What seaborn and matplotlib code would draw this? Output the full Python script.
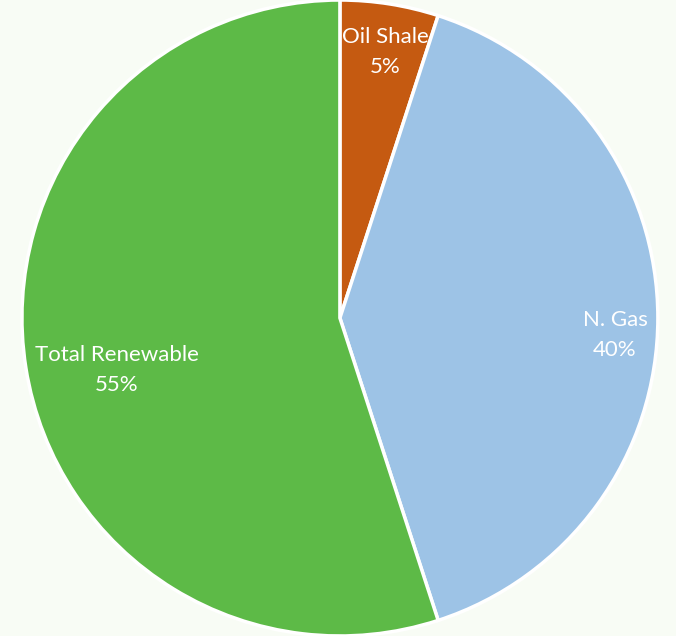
import numpy as np
import matplotlib
matplotlib.use("Agg")
import matplotlib.pyplot as plt
import seaborn as sns

# Energy mix shares (percent)
sources = ["Oil Shale", "N. Gas", "Total Renewable"]
shares = [5, 40, 55]
colors = ["#C55A11", "#9DC3E6", "#5DBA47"]

sns.set_theme(style="white")
plt.rcParams["font.family"] = ["Lato", "DejaVu Sans"]

bg = "#F8FCF5"
fig = plt.figure(figsize=(6.76, 6.36), dpi=100, facecolor=bg)
ax = fig.add_axes([0.0, 0.0, 1.0, 1.0])
ax.set_facecolor(bg)

wedges, _ = ax.pie(
    shares,
    colors=colors,
    startangle=90,
    counterclock=False,
    radius=1.0,
    center=(0.0, 0.0),
    wedgeprops=dict(edgecolor="white", linewidth=2.5),
)

# data label anchor points (in pie radius units)
label_pos = [(0.142, 0.836), (0.865, -0.053), (-0.701, -0.164)]
for name, val, (x, y) in zip(sources, shares, label_pos):
    ax.text(x, y, f"{name}\n{val}%", ha="center", va="center",
            color="white", fontsize=16, linespacing=1.62)

ax.set_xlim(-1.069, 1.057)
ax.set_ylim(-1.0, 1.0)
ax.set_aspect("equal")
ax.axis("off")

fig.savefig("out.png", dpi=100, facecolor=bg)
